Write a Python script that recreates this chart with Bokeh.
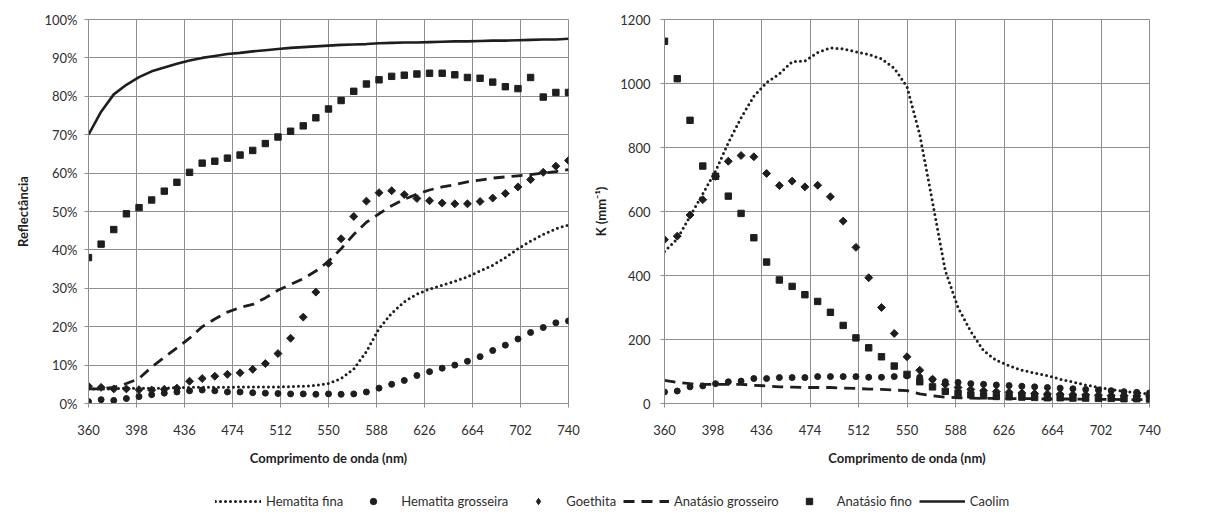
import numpy as np
from bokeh.plotting import figure
from bokeh.layouts import column, row
from bokeh.models import Range1d, FixedTicker, Legend, LegendItem
from bokeh.embed import file_html
from bokeh.resources import INLINE

# ---------------- data ----------------
wavelength = [360, 370, 380, 390, 400, 410, 420, 430, 440, 450,
              460, 470, 480, 490, 500, 510, 520, 530, 540, 550,
              560, 570, 580, 590, 600, 610, 620, 630, 640, 650,
              660, 670, 680, 690, 700, 710, 720, 730, 740]

x_ticks = [360, 398, 436, 474, 512, 550, 588, 626, 664, 702, 740]
refl_ticks = [0, 10, 20, 30, 40, 50, 60, 70, 80, 90, 100]
k_ticks = [0, 200, 400, 600, 800, 1000, 1200]

# Reflectância (%)
refl_hematita_fina = [3.8, 3.8, 3.8, 4.0, 4.0, 4.0, 4.0, 4.1, 4.2, 4.2,
                      4.2, 4.2, 4.3, 4.3, 4.3, 4.3, 4.4, 4.5, 4.7, 5.2,
                      6.5, 9.0, 13.5, 19.5, 23.5, 26.5, 28.5, 29.8, 30.8, 31.8,
                      33.0, 34.5, 36.0, 38.0, 40.3, 42.3, 44.0, 45.5, 46.5]
refl_hematita_grosseira = [0.5, 1.0, 0.8, 1.3, 1.8, 2.3, 2.7, 3.0, 3.3, 3.5,
                           3.3, 3.0, 3.0, 2.8, 2.7, 2.6, 2.5, 2.5, 2.4, 2.5,
                           2.4, 2.5, 3.0, 4.0, 5.0, 6.0, 7.3, 8.3, 9.2, 10.0,
                           11.0, 12.2, 13.8, 15.2, 16.8, 18.5, 19.8, 21.0, 21.5]
refl_goethita = [4.5, 4.2, 3.8, 3.8, 3.6, 3.5, 3.7, 4.0, 5.8, 6.5,
                 7.1, 7.6, 8.0, 8.9, 10.4, 13.0, 17.0, 22.5, 29.0, 36.5,
                 42.9, 48.7, 52.7, 54.9, 55.4, 54.4, 53.4, 52.8, 52.2, 52.0,
                 52.0, 52.6, 53.5, 54.7, 56.4, 58.3, 60.2, 61.8, 63.3]
refl_anatasio_grosseiro = [3.8, 3.8, 4.2, 5.2, 6.5, 9.5, 12.0, 14.5, 17.0, 20.0,
                           22.0, 23.8, 25.0, 25.8, 27.5, 29.5, 31.0, 32.5, 34.5, 37.0,
                           40.3, 44.0, 47.2, 49.4, 51.5, 53.2, 54.5, 55.6, 56.4, 57.0,
                           57.7, 58.2, 58.7, 59.0, 59.3, 59.6, 60.0, 60.4, 60.9]
refl_anatasio_fino = [38.0, 41.5, 45.3, 49.4, 51.0, 53.0, 55.3, 57.6, 60.2, 62.6,
                      63.1, 63.9, 64.7, 65.9, 67.7, 69.4, 70.9, 72.3, 74.4, 76.7,
                      78.9, 81.3, 83.2, 84.3, 85.2, 85.5, 85.8, 86.0, 86.0, 85.6,
                      84.9, 84.7, 83.7, 82.5, 82.0, 84.9, 79.8, 81.0, 81.0]
refl_caolim = [70.0, 76.0, 80.5, 83.0, 85.0, 86.5, 87.5, 88.5, 89.3, 90.0,
               90.5, 91.0, 91.3, 91.7, 92.0, 92.3, 92.6, 92.8, 93.0, 93.2,
               93.4, 93.5, 93.6, 93.8, 93.9, 94.0, 94.0, 94.1, 94.2, 94.3,
               94.3, 94.4, 94.5, 94.5, 94.6, 94.7, 94.8, 94.8, 95.0]

# K (mm^-1)
k_hematita_fina = [475, 515, 585, 655, 726, 815, 893, 960, 1003, 1030,
                   1068, 1070, 1097, 1111, 1108, 1099, 1091, 1077, 1048, 990,
                   840, 630, 415, 300, 225, 165, 135, 118, 104, 95,
                   87, 76, 67, 58, 50, 44, 38, 34, 30]
k_hematita_grosseira = [36, 39, 52, 55, 62, 68, 70, 78, 78, 81,
                        81, 81, 84, 84, 84, 84, 82, 82, 84, 86,
                        82, 75, 68, 66, 62, 60, 58, 56, 54, 52,
                        50, 48, 46, 44, 42, 40, 37, 35, 33]
k_goethita = [512, 523, 589, 637, 710, 757, 775, 771, 719, 681,
              695, 677, 682, 646, 570, 488, 393, 300, 219, 146,
              104, 76, 60, 50, 44, 40, 37, 35, 33, 31,
              30, 29, 28, 27, 26, 25, 25, 24, 24]
k_anatasio_grosseiro = [72, 66, 62, 60, 60, 60, 60, 57, 55, 52,
                        51, 50, 50, 50, 48, 47, 45, 44, 42, 40,
                        30, 24, 20, 18, 17, 16, 16, 15, 15, 15,
                        14, 14, 14, 13, 13, 13, 12, 12, 12]
k_anatasio_fino = [1132, 1015, 885, 742, 710, 648, 594, 518, 442, 386,
                   366, 340, 319, 285, 244, 205, 174, 146, 117, 91,
                   68, 52, 38, 32, 27, 24, 22, 21, 20, 19,
                   18, 18, 17, 17, 16, 16, 15, 15, 14]

labels = ["Hematita fina", "Hematita grosseira", "Goethita",
          "Anatásio grosseiro", "Anatásio fino", "Caolim"]

# ---------------- style ----------------
FONT = "Lato"
GRID = "#8f8f8f"
INK = "#1e1e1e"
TXT = "#2e2e2e"
DOT = dict(line_dash="0 5", line_cap="round", line_width=3.0, line_color=INK)
DASH = dict(line_dash="11 7", line_width=2.8, line_color=INK)
SOLID = dict(line_width=2.6, line_color=INK)
CIRC = dict(marker="circle", size=6.0, fill_color=INK, line_color=INK)
DIAM = dict(marker="square", size=5.6, angle=np.pi / 4, fill_color=INK, line_color=INK)
DIAM_LEG = dict(marker="diamond", size=10, fill_color=INK, line_color=INK)
SQR = dict(marker="square", size=6.4, fill_color=INK, line_color=INK)


def style(p, ylabel_standoff, title_standoff):
    p.background_fill_color = "white"
    p.border_fill_color = "white"
    p.outline_line_color = GRID
    p.outline_line_width = 1
    p.xgrid.grid_line_color = GRID
    p.ygrid.grid_line_color = GRID
    p.xaxis.ticker = FixedTicker(ticks=x_ticks)
    for ax in (p.xaxis[0], p.yaxis[0]):
        ax.axis_line_color = GRID
        ax.major_tick_line_color = GRID
        ax.major_tick_out = 4
        ax.major_tick_in = 0
        ax.minor_tick_line_color = None
        ax.major_label_text_font = FONT
        ax.major_label_text_font_size = "13px"
        ax.major_label_text_color = TXT
        ax.axis_label_text_font = FONT
        ax.axis_label_text_font_size = "13px"
        ax.axis_label_text_font_style = "bold"
        ax.axis_label_text_color = INK
    p.xaxis.major_label_standoff = 17
    p.xaxis.axis_label_standoff = 12
    p.yaxis.major_label_standoff = ylabel_standoff
    p.yaxis.axis_label_standoff = title_standoff
    p.xaxis.axis_label = "Comprimento de onda (nm)"


# ---------------- left: reflectance ----------------
p1 = figure(frame_width=480, frame_height=384,
            x_range=Range1d(360, 740), y_range=Range1d(0, 100),
            min_border_left=88, min_border_right=20,
            min_border_top=19, min_border_bottom=74,
            output_backend="svg", toolbar_location=None)
style(p1, 7, 10)
p1.yaxis.ticker = FixedTicker(ticks=refl_ticks)
p1.yaxis.major_label_overrides = {t: f"{t}%" for t in refl_ticks}
p1.yaxis.axis_label = "Reflectância"

p1.line(wavelength, refl_caolim, **SOLID)
p1.line(wavelength, refl_anatasio_grosseiro, **DASH)
p1.line(wavelength, refl_hematita_fina, **DOT)
p1.scatter(wavelength, refl_hematita_grosseira, **CIRC)
p1.scatter(wavelength, refl_goethita, **DIAM)
p1.scatter(wavelength, refl_anatasio_fino, **SQR)

# ---------------- right: K ----------------
p2 = figure(frame_width=485, frame_height=384,
            x_range=Range1d(360, 740), y_range=Range1d(0, 1200),
            min_border_left=76, min_border_right=51,
            min_border_top=19, min_border_bottom=74,
            output_backend="svg", toolbar_location=None)
style(p2, 10, 8)
p2.yaxis.ticker = FixedTicker(ticks=k_ticks)
p2.yaxis.axis_label = "K (mm⁻¹)"

p2.line(wavelength, k_anatasio_grosseiro, **DASH)
p2.line(wavelength, k_hematita_fina, **DOT)
p2.scatter(wavelength, k_hematita_grosseira, **CIRC)
p2.scatter(wavelength, k_goethita, **DIAM)
p2.scatter(wavelength, k_anatasio_fino, **SQR)

# ---------------- legend strip ----------------
p3 = figure(width=1200, height=40, x_range=Range1d(0, 1), y_range=Range1d(0, 1),
            x_axis_type=None, y_axis_type=None, min_border=0,
            output_backend="svg", toolbar_location=None)
p3.outline_line_color = None
p3.xgrid.visible = False
p3.ygrid.visible = False
p3.background_fill_color = "white"
p3.border_fill_color = "white"
hx, hy = [-5], [-5]
r_hf = p3.line(hx, hy, **DOT)
r_hg = p3.scatter(hx, hy, **CIRC)
r_go = p3.scatter(hx, hy, **DIAM_LEG)
r_ag = p3.line(hx, hy, **DASH)
r_af = p3.scatter(hx, hy, **SQR)
r_ca = p3.line(hx, hy, **SOLID)
legend = Legend(items=[LegendItem(label=l, renderers=[r])
                       for l, r in zip(labels, [r_hf, r_hg, r_go, r_ag, r_af, r_ca])],
                orientation="horizontal", location=(215, 8),
                glyph_width=46, glyph_height=16, label_standoff=5, spacing=7,
                padding=5, margin=0, border_line_color=None,
                background_fill_alpha=0, label_text_font=FONT,
                label_text_font_size="13px", label_text_color=TXT)
p3.add_layout(legend)

layout = column(row(p1, p2), p3)
open("out.html", "w").write(file_html(layout, INLINE))
